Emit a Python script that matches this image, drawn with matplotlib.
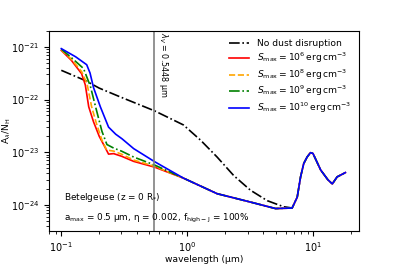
import numpy as np
import matplotlib
matplotlib.use("Agg")
import matplotlib.pyplot as plt

plt.rcParams["font.size"] = 6.6
plt.rcParams["xtick.labelsize"] = 7
plt.rcParams["ytick.labelsize"] = 7
plt.rcParams["mathtext.fontset"] = "dejavusans"

# No dust disruption
lam_nodust = [0.1, 0.155, 0.2, 0.3, 0.55, 0.93, 1.27, 1.72, 2.33, 3.16, 4.3, 5.8, 6.8]
ext_nodust = [3.6e-22, 2.3e-22, 1.65e-22, 1.1e-22, 6.1e-23, 3.3e-23, 1.7e-23,
              8.1e-24, 3.6e-24, 1.9e-24, 1.2e-24, 9.2e-25, 8.7e-25]

# common long-wavelength tail (all S_max curves coincide here)
lam_tail = [0.935, 1.72, 3.16, 5.0, 6.77, 7.43, 7.9, 8.37, 8.9, 9.46, 9.9,
            11.4, 13.0, 14.1, 15.4, 17.9]
ext_tail = [3.2e-24, 1.63e-24, 1.13e-24, 8.5e-25, 8.7e-25, 1.4e-24, 3.4e-24,
            6.1e-24, 8.1e-24, 9.8e-24, 9.5e-24, 4.6e-24, 3.0e-24, 2.5e-24,
            3.4e-24, 4.1e-24]

lam_s6 = [0.1, 0.12, 0.145, 0.155, 0.165, 0.18, 0.2, 0.22, 0.237, 0.26, 0.3, 0.375, 0.55]
ext_s6 = [8.6e-22, 5.6e-22, 3.1e-22, 1.9e-22, 7.3e-23, 3.8e-23, 2.0e-23, 1.3e-23,
          9.2e-24, 9.4e-24, 8.4e-24, 6.7e-24, 5.2e-24]

lam_s8 = [0.1, 0.12, 0.145, 0.16, 0.174, 0.19, 0.21, 0.229, 0.26, 0.3, 0.375, 0.55]
ext_s8 = [8.8e-22, 5.9e-22, 3.4e-22, 2.0e-22, 7.3e-23, 3.5e-23, 1.7e-23, 1.1e-23,
          1.05e-23, 9.2e-24, 7.1e-24, 5.4e-24]

lam_s9 = [0.1, 0.12, 0.15, 0.17, 0.187, 0.21, 0.23, 0.26, 0.3, 0.375, 0.55]
ext_s9 = [9.1e-22, 6.3e-22, 3.9e-22, 1.8e-22, 7.3e-23, 2.5e-23, 1.4e-23,
          1.2e-23, 1.05e-23, 8.1e-24, 5.7e-24]

lam_s10 = [0.1, 0.13, 0.159, 0.169, 0.18, 0.204, 0.237, 0.27, 0.303, 0.375, 0.55]
ext_s10 = [9.3e-22, 6.5e-22, 4.6e-22, 3.2e-22, 1.7e-22, 7.3e-23, 3.0e-23,
           2.2e-23, 1.8e-23, 1.17e-23, 6.6e-24]

lam_V = 0.5448

fig = plt.figure(figsize=(3.99, 2.66), dpi=100)
ax = fig.add_axes([0.123, 0.132, 0.777, 0.751])

ax.plot(lam_nodust, ext_nodust, color="black", ls="-.", lw=1.2,
        label="No dust disruption")
ax.plot(lam_s6 + lam_tail, ext_s6 + ext_tail, color="red", ls="-", lw=1.2,
        label=r"$S_{\rm max}=10^{6}\,{\rm erg\,cm^{-3}}$")
ax.plot(lam_s8 + lam_tail, ext_s8 + ext_tail, color="orange", ls="--", lw=1.2,
        label=r"$S_{\rm max}=10^{8}\,{\rm erg\,cm^{-3}}$")
ax.plot(lam_s9 + lam_tail, ext_s9 + ext_tail, color="green", ls="-.", lw=1.2,
        label=r"$S_{\rm max}=10^{9}\,{\rm erg\,cm^{-3}}$")
ax.plot(lam_s10 + lam_tail, ext_s10 + ext_tail, color="blue", ls="-", lw=1.2,
        label=r"$S_{\rm max}=10^{10}\,{\rm erg\,cm^{-3}}$")

ax.axvline(lam_V, color="gray", lw=1.2)
ax.text(0.57, 1.95e-21, r"$\lambda_V$ = 0.5448 μm", rotation=270,
        va="top", ha="left", fontsize=5.8)

ax.text(0.1056, 1.4e-24, r"Betelgeuse (z = 0 R$_{*}$)", fontsize=6.4,
        va="center")
ax.text(0.1056, 5.5e-25,
        r"a$_{\rm max}$ = 0.5 μm, η = 0.002, f$_{\rm high-J}$ = 100%",
        fontsize=6.4, va="center")

ax.set_xscale("log")
ax.set_yscale("log")
ax.set_xlim(0.08, 23)
ax.set_ylim(3.2e-25, 2.0e-21)
ax.set_xlabel("wavelength (μm)", labelpad=0.5)
ax.set_ylabel(r"A$_\lambda$/N$_{\rm H}$")
ax.yaxis.set_label_coords(-0.115, 0.5)

ax.legend(loc="upper right", frameon=False, fontsize=6.6, handlelength=2.2,
          borderaxespad=0.5, labelspacing=0.25)

fig.savefig("out.png", dpi=100)
